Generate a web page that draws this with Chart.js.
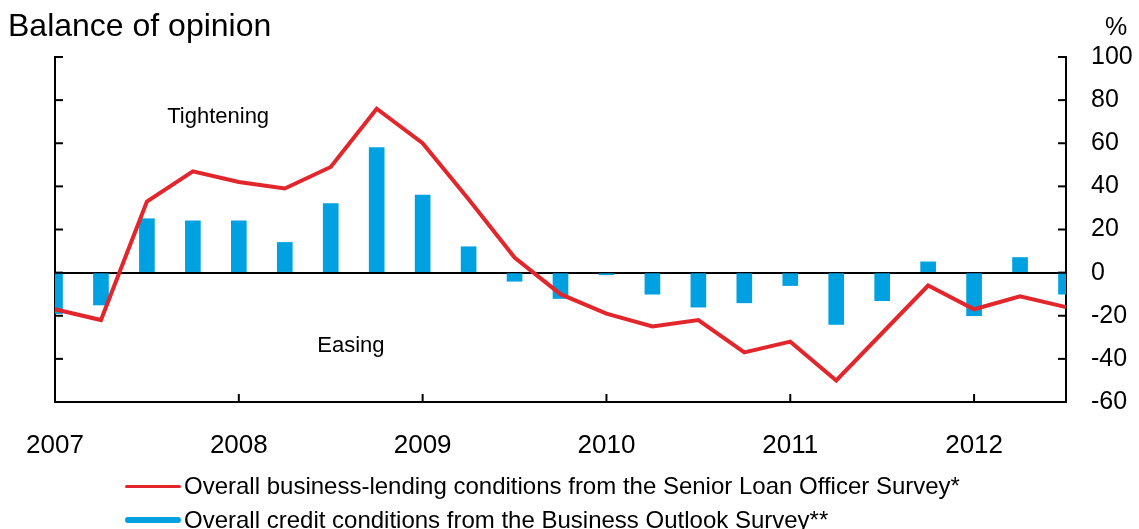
<!DOCTYPE html>
<html>
<head>
<meta charset="utf-8">
<title>Balance of opinion</title>
<script src="https://cdn.jsdelivr.net/npm/chart.js@4.4.0/dist/chart.umd.min.js"></script>
<style>
	html, body { margin: 0; padding: 0; background: #fff; }
	#wrap { position: relative; width: 1139px; height: 529px; overflow: hidden; font-family: "Liberation Sans", Arial, sans-serif; }
	#chart-balance { position: absolute; left: 0; top: 0; }
	.legend-row { position: absolute; left: 125px; height: 28px; display: flex; align-items: center; font-size: 24px; color: #000; white-space: nowrap; }
	.legend-row .swatch { display: inline-block; width: 56px; margin-right: 3px; border-radius: 3px; }
</style>
</head>
<body>
<div id="wrap">
	<canvas id="chart-balance" width="1139" height="529"></canvas>
	<div id="legend"></div>
</div>
<script>
// Quarters, 2007 Q1 to 2012 Q3
const quarters = [
	'2007 Q1', '2007 Q2', '2007 Q3', '2007 Q4',
	'2008 Q1', '2008 Q2', '2008 Q3', '2008 Q4',
	'2009 Q1', '2009 Q2', '2009 Q3', '2009 Q4',
	'2010 Q1', '2010 Q2', '2010 Q3', '2010 Q4',
	'2011 Q1', '2011 Q2', '2011 Q3', '2011 Q4',
	'2012 Q1', '2012 Q2', '2012 Q3'
];
const yearLabels = ['2007', '2008', '2009', '2010', '2011', '2012'];

// Senior Loan Officer Survey (line)
const sloSurvey = [-17, -22, 33, 47, 42, 39, 49, 76, 60, 34, 7, -10, -19, -25, -22, -37, -32, -50, -28, -6, -17, -11, -16];
// Business Outlook Survey (bars)
const bosSurvey = [-19, -15, 25, 24, 24, 14, 32, 58, 36, 12, -4, -12, -1, -10, -16, -14, -6, -24, -13, 5, -20, 7, -10];

const seriesNames = [
	'Overall business-lending conditions from the Senior Loan Officer Survey*',
	'Overall credit conditions from the Business Outlook Survey**'
];
const yRange = [-60, 100];

(function () {
	'use strict';

	const RED = '#e3262b';
	const BLUE = '#00a1e0';
	const FONT = '"Liberation Sans", Arial, sans-serif';

	const BalanceChart = {
		chart: null,

		init: function () {
			this.buildLegend();
			this.drawChart();
		},

		buildLegend: function () {
			const legend = document.getElementById('legend');
			const rows = [
				{ name: seriesNames[0], color: RED, thick: 3, top: 472 },
				{ name: seriesNames[1], color: BLUE, thick: 6, top: 506 }
			];
			rows.forEach(r => {
				const row = document.createElement('div');
				row.className = 'legend-row';
				row.style.top = r.top + 'px';
				const sw = document.createElement('span');
				sw.className = 'swatch';
				sw.style.height = r.thick + 'px';
				sw.style.background = r.color;
				row.appendChild(sw);
				row.appendChild(document.createTextNode(r.name));
				legend.appendChild(row);
			});
		},

		// inward tick marks, notes and headings
		framePlugin: {
			id: 'frameTicks',
			afterDraw: function (chart) {
				const { ctx, chartArea: a, scales } = chart;
				const seg = (x1, y1, x2, y2) => {
					ctx.beginPath();
					ctx.moveTo(x1, y1);
					ctx.lineTo(x2, y2);
					ctx.stroke();
				};
				ctx.save();
				ctx.strokeStyle = '#000';
				ctx.lineWidth = 2;
				scales.y.ticks.forEach(t => {
					const py = scales.y.getPixelForValue(t.value);
					seg(a.left, py, a.left + 8, py);
					seg(a.right - 8, py, a.right, py);
				});
				quarters.forEach((q, i) => {
					if (i > 0 && i % 4 === 0) {
						const px = scales.x.getPixelForValue(i);
						seg(px, a.bottom - 8, px, a.bottom);
					}
				});

				ctx.fillStyle = '#000';
				ctx.textAlign = 'center';
				ctx.textBaseline = 'middle';
				ctx.font = '22px ' + FONT;
				ctx.fillText('Tightening', scales.x.getPixelForValue(3.55), scales.y.getPixelForValue(72));
				ctx.fillText('Easing', scales.x.getPixelForValue(6.44), scales.y.getPixelForValue(-34));

				ctx.textBaseline = 'alphabetic';
				ctx.textAlign = 'left';
				ctx.font = '32px ' + FONT;
				ctx.fillText('Balance of opinion', 8, 36);
				ctx.textAlign = 'center';
				ctx.font = '25px ' + FONT;
				ctx.fillText('%', 1116, 35);
				ctx.restore();
			}
		},

		drawChart: function () {
			const ctx = document.getElementById('chart-balance');
			if (!ctx) {return;}

			this.chart = new Chart(ctx, {
				data: {
					labels: quarters,
					datasets: [
						{
							type: 'line',
							label: seriesNames[0],
							data: sloSurvey,
							borderColor: RED,
							borderWidth: 4,
							pointRadius: 0,
							tension: 0,
							yAxisID: 'y'
						},
						{
							type: 'bar',
							label: seriesNames[1],
							data: bosSurvey,
							backgroundColor: BLUE,
							barThickness: 15,
							clip: 0,
							yAxisID: 'y'
						}
					]
				},
				options: {
					responsive: false,
					animation: false,
					devicePixelRatio: 1,
					layout: {
						padding: { top: 57, bottom: 67, left: 0, right: 0 }
					},
					plugins: {
						legend: { display: false },
						tooltip: { enabled: false },
						title: { display: false }
					},
					scales: {
						x: {
							type: 'category',
							offset: false,
							grid: { display: false },
							border: { display: true, color: '#000', width: 2 },
							ticks: {
								autoSkip: false,
								maxRotation: 0,
								padding: 20,
								color: '#000',
								font: { size: 26, family: FONT },
								callback: (v, i) => (i % 4 === 0 ? yearLabels[i / 4] : '')
							},
							afterFit: s => { s.height = 60; }
						},
						y: {
							position: 'right',
							min: yRange[0],
							max: yRange[1],
							ticks: {
								stepSize: 20,
								padding: 25,
								color: '#000',
								font: { size: 25, family: FONT }
							},
							grid: {
								drawTicks: false,
								lineWidth: 2,
								color: c => (c.tick && c.tick.value === 0 ? '#000' : 'rgba(0,0,0,0)')
							},
							border: { display: true, color: '#000', width: 2 },
							afterFit: s => { s.width = 73; }
						},
						yl: {
							position: 'left',
							min: yRange[0],
							max: yRange[1],
							ticks: { display: false, stepSize: 20 },
							grid: { display: false },
							border: { display: true, color: '#000', width: 2 },
							afterFit: s => { s.width = 55; }
						}
					}
				},
				plugins: [this.framePlugin]
			});
		}
	};

	BalanceChart.init();
})();
</script>
</body>
</html>
